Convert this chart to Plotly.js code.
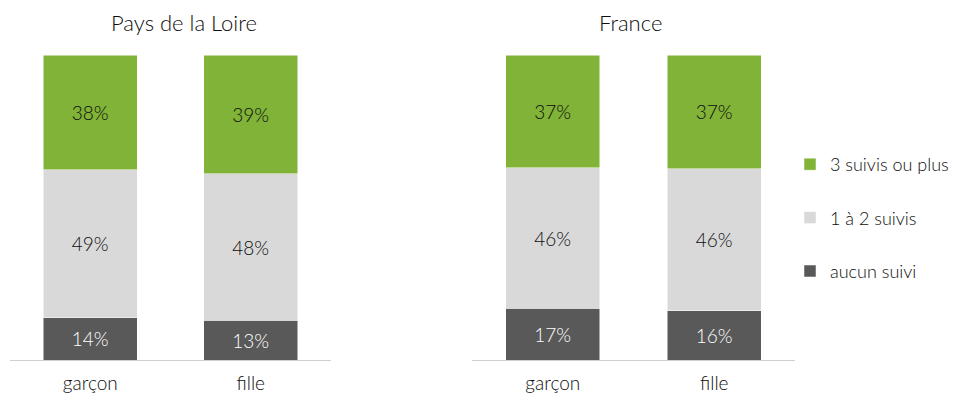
<!DOCTYPE html>
<html>
<head>
<meta charset="utf-8">
<script src="https://cdn.plot.ly/plotly-3.0.1.min.js"></script>
<style>html,body{margin:0;padding:0;background:#fff;}#chart{width:960px;height:396px;}</style>
</head>
<body>
<div id="chart"></div>
<script>
// Data
const categories = ['garçon', 'fille'];
const panels = ['Pays de la Loire', 'France'];
const seriesNames = ['aucun suivi', '1 à 2 suivis', '3 suivis ou plus'];
const pdlAucun = [14, 13];
const pdlUnDeux = [49, 48];
const pdlTrois = [38, 39];
const frAucun = [17, 16];
const frUnDeux = [46, 46];
const frTrois = [37, 37];

const colors = ['#595959', '#d9d9d9', '#80b337'];
const textColors = ['#ffffff', '#0d0d0d', '#0d0d0d'];
const FONT = 'Lato, "Open Sans", sans-serif';

const panelData = [
  [pdlAucun, pdlUnDeux, pdlTrois],
  [frAucun, frUnDeux, frTrois]
];

const traces = [];
panelData.forEach((series, p) => {
  series.forEach((vals, s) => {
    traces.push({
      type: 'bar',
      x: categories,
      y: vals,
      name: seriesNames[s],
      legendgroup: seriesNames[s],
      legendrank: 10 - s,
      showlegend: p === 0,
      xaxis: p === 0 ? 'x' : 'x2',
      yaxis: p === 0 ? 'y' : 'y2',
      marker: {color: colors[s], line: {color: '#ffffff', width: 0.5}},
      text: vals.map(v => v + '%'),
      texttemplate: '%{text}',
      textposition: 'inside',
      insidetextanchor: 'middle',
      textangle: 0,
      constraintext: 'none',
      textfont: {family: FONT, size: 19, weight: 300, color: textColors[s]},
      hoverinfo: 'skip'
    });
  });
});

const axisX = {
  showgrid: false, zeroline: false, showline: true, linecolor: '#d0d0d0', linewidth: 1,
  ticks: '', ticklabelstandoff: 6,
  tickfont: {family: FONT, size: 19, weight: 300, color: '#0d0d0d'}, fixedrange: true
};
const axisY = {range: [0, 100], visible: false, showgrid: false, zeroline: false, fixedrange: true};

const layout = {
  width: 960, height: 396,
  margin: {l: 0, r: 0, t: 55, b: 36},
  paper_bgcolor: '#ffffff', plot_bgcolor: '#ffffff',
  barmode: 'stack', barnorm: 'percent', bargap: 0.415,
  font: {family: FONT, color: '#404040'},
  xaxis: Object.assign({domain: [10/960, 331/960], anchor: 'y'}, axisX),
  xaxis2: Object.assign({domain: [472/960, 795/960], anchor: 'y2'}, axisX),
  yaxis: Object.assign({anchor: 'x'}, axisY),
  yaxis2: Object.assign({anchor: 'x2'}, axisY),
  legend: {
    x: 790/960, xanchor: 'left', y: (360-146)/305, yanchor: 'top',
    traceorder: 'grouped', tracegroupgap: 27,
    font: {family: FONT, size: 18, weight: 300, color: '#0d0d0d'},
    bgcolor: 'rgba(0,0,0,0)'
  },
  annotations: [
    {text: panels[0], xref: 'paper', yref: 'paper', x: 184/960, y: 1 + (55-22)/305, xanchor: 'center', yanchor: 'middle', showarrow: false, font: {family: FONT, size: 22, weight: 300, color: '#0d0d0d'}},
    {text: panels[1], xref: 'paper', yref: 'paper', x: 630/960, y: 1 + (55-22)/305, xanchor: 'center', yanchor: 'middle', showarrow: false, font: {family: FONT, size: 22, weight: 300, color: '#0d0d0d'}}
  ],
  showlegend: true
};

Plotly.newPlot('chart', traces, layout, {displayModeBar: false, staticPlot: true});
</script>
</body>
</html>
